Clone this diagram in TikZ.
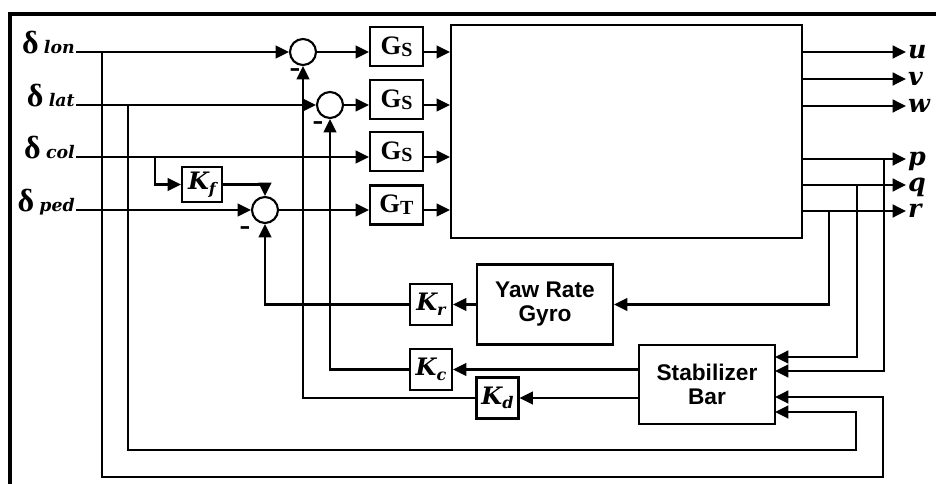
\documentclass[tikz,border=0pt]{standalone}
\usepackage{fontspec}
\setmainfont{Liberation Serif}
\setsansfont{Liberation Sans}
\newfontfamily\dvs{DejaVu Serif}
\usetikzlibrary{arrows.meta}
\newcommand\subf{\fontsize{13}{13}\selectfont\dvs\bfseries\itshape}
\newcommand\insub[1]{{\subf #1}}
\newcommand\gsub[1]{\raisebox{-1.5pt}{\fontsize{15}{15}\selectfont #1}}
\newcommand\ksub[1]{\raisebox{-3.5pt}{\fontsize{12}{12}\selectfont #1}}
\begin{document}
\begin{tikzpicture}[x=0.75pt,y=-0.75pt,
  ln/.style={line width=1.8pt},
  arr/.style={ln,-{Triangle[length=10pt,width=9.5pt]}},
  blk/.style={draw,line width=1.6pt,inner sep=0pt},
  sumc/.style={draw,circle,line width=1.6pt,minimum size=19.5pt,inner sep=0pt},
  gbox/.style={blk,minimum width=39.75pt,minimum height=29.25pt,font=\fontsize{20}{20}\selectfont\bfseries},
  kbox/.style={blk,minimum width=31.5pt,minimum height=30.75pt,font=\fontsize{18}{18}\selectfont\dvs\bfseries\itshape},
  sbox/.style={blk,minimum width=102pt,minimum height=60pt,align=center,font=\fontsize{17}{18}\selectfont\sffamily\bfseries},
  lbl/.style={anchor=base east,inner sep=0pt,font=\fontsize{24}{24}\selectfont\bfseries},
  olbl/.style={anchor=west,inner sep=1.5pt,outer sep=0pt,text height=9.9pt,text depth=0pt,font=\fontsize{19}{19}\selectfont\dvs\bfseries\itshape},
  minus/.style={inner sep=0pt,font=\fontsize{24}{24}\selectfont\bfseries}
]
\useasboundingbox (0,0) rectangle (936,484);
% frame (top and left edges only)
\draw[line width=2.4pt,line join=miter] (10,484) -- (10,14) -- (936,14);

% input labels and line starts
\node[lbl] (tlon) at (75,54) {δ\,\insub{lon}};
\node[lbl] (tlat) at (75,107) {δ\,\insub{lat}};
\node[lbl] (tcol) at (75,159) {δ\,\insub{col}};
\node[lbl] (tped) at (75,212) {δ\,\insub{ped}};
\coordinate (lon) at (76,52);
\coordinate (lat) at (76,105);
\coordinate (col) at (76,157);
\coordinate (ped) at (76,210);

% summing junctions
\node[sumc] (s1) at (303,52) {};
\node[sumc] (s2) at (330,105) {};
\node[sumc] (s3) at (265,210) {};
\node[minus] (m1) at (295,73) {-};
\node[minus] (m2) at (318,126) {-};
\node[minus] (m3) at (245,231) {-};

% G boxes
\node[gbox] (g1) at (396.5,46.5) {G\gsub{S}};
\node[gbox] (g2) at (396.5,99.5) {G\gsub{S}};
\node[gbox] (g3) at (396.5,151.5) {G\gsub{S}};
\node[gbox] (g4) at (396.5,205) {G\gsub{T}};

% plant
\node[blk,minimum width=263.25pt,minimum height=159.75pt] (plant) at (626.5,131.5) {};

% Kf
\node[kbox,minimum width=30pt,minimum height=26.25pt] (kf) at (202,184.5) {K\ksub{f}};

% feedback blocks
\node[sbox] (gyro) at (545,304.5) {Yaw Rate\\Gyro};
\node[sbox,minimum height=59.25pt] (stab) at (707,384.5) {Stabilizer\\Bar};
\node[kbox] (kr) at (431,304.5) {K\ksub{r}};
\node[kbox] (kc) at (431,369.5) {K\ksub{c}};
\node[kbox] (kd) at (497.5,398) {K\ksub{d}};

% output labels
\node[olbl] (ou) at (906,52) {u};
\node[olbl] (ov) at (906,79) {v};
\node[olbl] (ow) at (906,106) {w};
\node[olbl] (op) at (906,159) {p};
\node[olbl] (oq) at (906,185) {q};
\node[olbl] (or) at (906,211) {r};

% branch points
\coordinate (blon) at (102,52);
\coordinate (blat) at (128,105);
\coordinate (bcol) at (155,157);
\coordinate (br) at (829,211);
\coordinate (bq) at (857,185);
\coordinate (bp) at (884,159);
\coordinate (lc1) at (883,477);
\coordinate (lc2) at (856,450);
\coordinate (si1) at (775,357);
\coordinate (si2) at (775,371);
\coordinate (si3) at (775,397);
\coordinate (si4) at (775,412);

% forward paths
\draw[arr] (lon) -- (s1.west);
\draw[arr] (lat) -- (s2.west);
\draw[arr] (col) -- (col -| g3.west);
\draw[arr] (ped) -- (s3.west);
\draw[arr] (s1.east) -- (s1 -| g1.west);
\draw[arr] (s2.east) -- (s2 -| g2.west);
\draw[arr] (s3.east) -- (s3 -| g4.west);
\draw[arr] (g1.east |- s1) -- (s1 -| plant.west);
\draw[arr] (g2.east |- s2) -- (s2 -| plant.west);
\draw[arr] (g3.east |- col) -- (col -| plant.west);
\draw[arr] (g4.east |- s3) -- (s3 -| plant.west);
\draw[arr] (bcol) |- (kf.west);
\draw[arr] (kf.east) -| (s3.north);

% outputs
\foreach \o in {ou,ov,ow,op,oq,or}
  \draw[arr] (plant.east |- \o) -- (\o.west);

% feedback
\draw[arr] (br) |- (gyro.east);
\draw[arr] (bq) |- (si1);
\draw[arr] (bp) |- (si2);
\draw[arr] (blon) |- (lc1) |- (si3);
\draw[arr] (blat) |- (lc2) |- (si4);
\draw[arr] (gyro.west) -- (kr.east);
\draw[arr] (kr.west) -| (s3.south);
\draw[arr] (stab.west |- kc) -- (kc.east);
\draw[arr] (kc.west) -| (s2.south);
\draw[arr] (stab.west |- kd) -- (kd.east);
\draw[arr] (kd.west) -| (s1.south);
\end{tikzpicture}
\end{document}
